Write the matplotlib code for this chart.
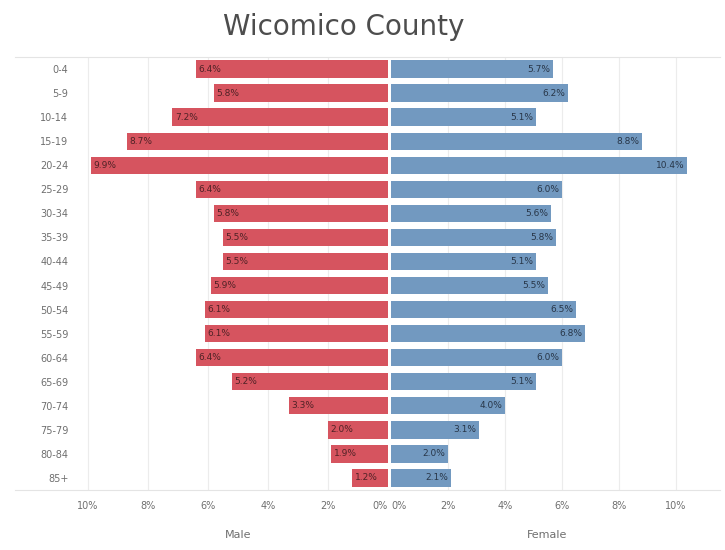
import matplotlib
matplotlib.use("Agg")
import matplotlib.pyplot as plt
from matplotlib.lines import Line2D

age_groups = ["0-4", "5-9", "10-14", "15-19", "20-24", "25-29", "30-34", "35-39",
              "40-44", "45-49", "50-54", "55-59", "60-64", "65-69", "70-74",
              "75-79", "80-84", "85+"]
# share of each sex's population in every age group (%)
male_pct = [6.4, 5.8, 7.2, 8.7, 9.9, 6.4, 5.8, 5.5, 5.5, 5.9, 6.1, 6.1, 6.4,
            5.2, 3.3, 2.0, 1.9, 1.2]
female_pct = [5.7, 6.2, 5.1, 8.8, 10.4, 6.0, 5.6, 5.8, 5.1, 5.5, 6.5, 6.8, 6.0,
              5.1, 4.0, 3.1, 2.0, 2.1]
tick_vals = [0, 2, 4, 6, 8, 10]
tick_labels = ["0%", "2%", "4%", "6%", "8%", "10%"]

W, H = 725, 550
male_color = "#d6545f"
female_color = "#7299c0"
grid_color = "#ececec"
text_color = "#6f6f6f"

fig = plt.figure(figsize=(W / 100, H / 100), dpi=100)
plt.rcParams["font.family"] = ["DejaVu Sans"]

bottom, top = 490, 57
ax_m = fig.add_axes([78 / W, (H - bottom) / H, 310 / W, (bottom - top) / H])
ax_f = fig.add_axes([391 / W, (H - bottom) / H, 312 / W, (bottom - top) / H])

rows = list(range(len(age_groups)))

for ax, vals, color, xmax in [(ax_m, male_pct, male_color, 310 / 30),
                              (ax_f, female_pct, female_color, 312 / 28.5)]:
    ax.barh(rows, vals, height=0.72, color=color, zorder=2)
    ax.set_ylim(len(rows) - 0.5, -0.5)
    ax.set_xticks(tick_vals)
    ax.set_xticklabels(tick_labels, fontsize=7, color=text_color)
    ax.tick_params(axis="x", length=0, pad=8)
    for x in tick_vals[1:]:
        ax.axvline(x, color=grid_color, lw=0.8, zorder=0)
    for s in ax.spines.values():
        s.set_visible(False)
    if ax is ax_m:
        ax.set_xlim(xmax, 0)
    else:
        ax.set_xlim(0, xmax)

# value labels at the outer end of each bar
for i, v in enumerate(male_pct):
    ax_m.annotate(f"{v:.1f}%", (v, i), xytext=(2, 0), textcoords="offset points",
                  ha="left", va="center", fontsize=6.5, color="#4f2226", zorder=3)
for i, v in enumerate(female_pct):
    ax_f.annotate(f"{v:.1f}%", (v, i), xytext=(-2, 0), textcoords="offset points",
                  ha="right", va="center", fontsize=6.5, color="#283648", zorder=3)

ax_m.set_yticks(rows)
ax_m.set_yticklabels(age_groups, fontsize=7, color=text_color)
ax_m.tick_params(axis="y", length=0, pad=7)
ax_f.set_yticks([])

# keep the zero labels inside their own pane
ax_m.get_xticklabels()[0].set_ha("right")
ax_f.get_xticklabels()[0].set_ha("left")

# frame lines across the whole view
for y in (top, bottom):
    fig.add_artist(Line2D([15 / W, 720 / W], [(H - y) / H] * 2, color="#e4e4e4", lw=0.8))

fig.text(238 / W, 1 - 535 / H, "Male", ha="center", va="center", fontsize=8, color=text_color)
fig.text(547 / W, 1 - 535 / H, "Female", ha="center", va="center", fontsize=8, color=text_color)
fig.text(344 / W, 1 - 27 / H, "Wicomico County", ha="center", va="center",
         fontsize=20, color="#4d4d4d")

fig.savefig("out.png", dpi=100)
